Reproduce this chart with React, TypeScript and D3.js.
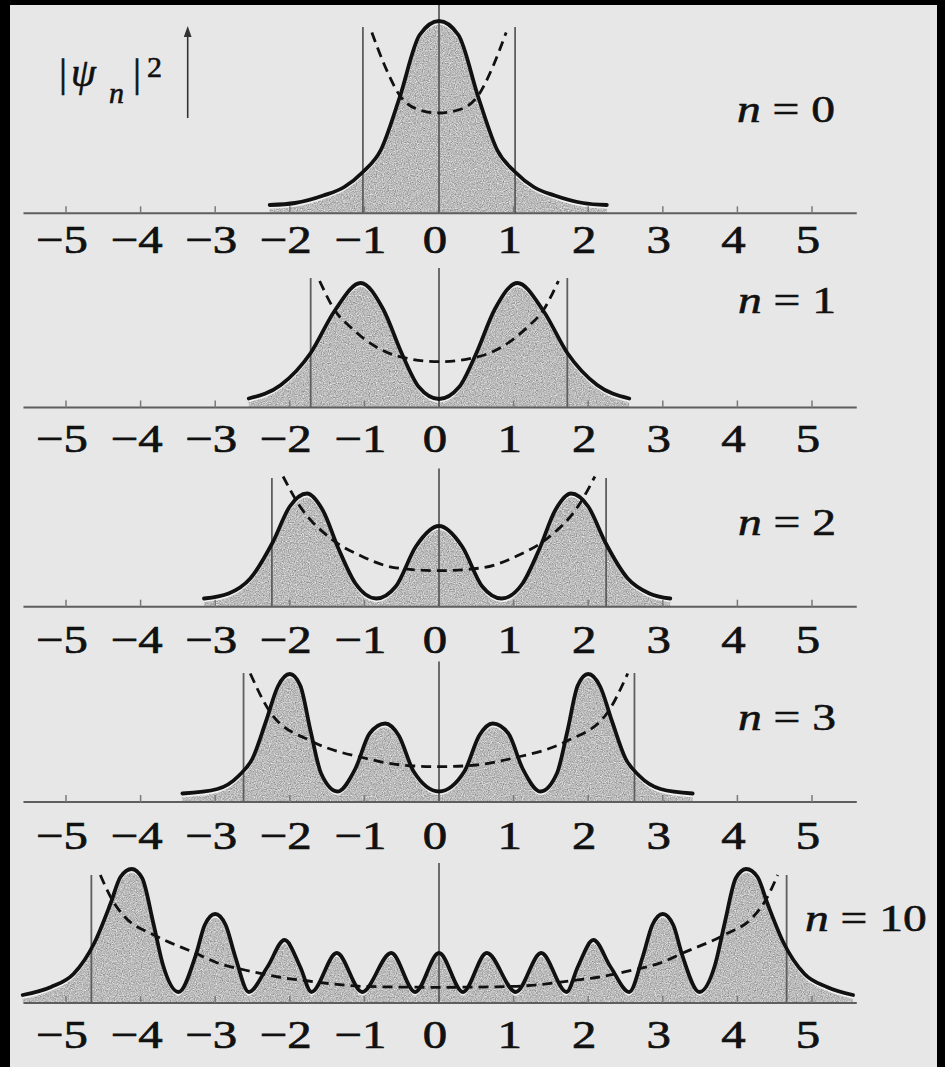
import React from 'react';
import * as d3 from 'd3';

type Pt = [number, number];

const WIDTH = 945;
const HEIGHT = 1067;

// Quantum numbers of the oscillator states shown, top to bottom
const levels = [0, 1, 2, 3, 10];
const levelLabels = ['0', '1', '2', '3', '10'];

// |psi_n|^2 profiles as [x, density] pairs (density in arbitrary units)
const densityN0: Pt[] = [
  [-2.27, 0.01], [-1.93, 0.03], [-1.55, 0.105], [-1.27, 0.19], [-1.02, 0.34], [-0.78, 0.56],
  [-0.53, 1.08], [-0.26, 1.71], [0, 1.85], [0.26, 1.71], [0.53, 1.08], [0.78, 0.56],
  [1.02, 0.34], [1.27, 0.19], [1.55, 0.105], [1.93, 0.03], [2.25, 0.01],
];
const densityN1: Pt[] = [
  [-2.55, 0.005], [-2.12, 0.14], [-1.72, 0.46], [-1.4, 0.88], [-1.05, 1.16], [-0.75, 0.9],
  [-0.49, 0.44], [-0.27, 0.12], [0, 0], [0.27, 0.12], [0.49, 0.44], [0.75, 0.9],
  [1.05, 1.16], [1.4, 0.88], [1.72, 0.46], [2.12, 0.14], [2.55, 0.005],
];
const densityN2: Pt[] = [
  [-3.15, 0], [-2.82, 0.05], [-2.53, 0.2], [-2.23, 0.56], [-2.0, 0.92], [-1.77, 1.05],
  [-1.56, 0.885], [-1.34, 0.485], [-1.12, 0.15], [-0.84, 0], [-0.58, 0.12], [-0.31, 0.52],
  [0, 0.725], [0.31, 0.52], [0.58, 0.12], [0.84, 0], [1.12, 0.15], [1.34, 0.485],
  [1.56, 0.885], [1.77, 1.05], [2.0, 0.92], [2.23, 0.56], [2.53, 0.2], [2.82, 0.05], [3.1, 0],
];
const densityN3: Pt[] = [
  [-3.44, 0], [-2.97, 0.045], [-2.68, 0.18], [-2.5, 0.35], [-2.32, 0.72], [-2.16, 1.07],
  [-2.0, 1.195], [-1.86, 1.08], [-1.72, 0.62], [-1.58, 0.2], [-1.36, 0.02], [-1.12, 0.25],
  [-0.93, 0.6], [-0.72, 0.7], [-0.54, 0.58], [-0.34, 0.22], [0, 0.02], [0.34, 0.22],
  [0.54, 0.58], [0.72, 0.7], [0.93, 0.6], [1.12, 0.25], [1.36, 0.02], [1.58, 0.2],
  [1.72, 0.62], [1.86, 1.08], [2.0, 1.195], [2.16, 1.07], [2.32, 0.72], [2.5, 0.35],
  [2.68, 0.18], [2.97, 0.045], [3.4, 0],
];
const densityN10: Pt[] = [
  [-5.58, 0], [-5.2, 0.08], [-4.9, 0.21], [-4.62, 0.52], [-4.4, 0.92], [-4.27, 1.18],
  [-4.12, 1.26], [-3.98, 1.17], [-3.83, 0.72], [-3.7, 0.3], [-3.49, 0.03], [-3.26, 0.4],
  [-3.14, 0.7], [-3.0, 0.81], [-2.86, 0.7], [-2.73, 0.38], [-2.55, 0.03], [-2.3, 0.28],
  [-2.07, 0.55], [-1.86, 0.28], [-1.71, 0.03], [-1.37, 0.42], [-1.03, 0.03], [-0.64, 0.42],
  [-0.32, 0.03], [0, 0.42], [0.32, 0.03], [0.64, 0.42], [1.03, 0.03], [1.37, 0.42],
  [1.71, 0.03], [1.86, 0.28], [2.07, 0.55], [2.3, 0.28], [2.55, 0.03], [2.73, 0.38],
  [2.86, 0.7], [3.0, 0.81], [3.14, 0.7], [3.26, 0.4], [3.49, 0.03], [3.7, 0.3],
  [3.83, 0.72], [3.98, 1.17], [4.12, 1.26], [4.27, 1.18], [4.4, 0.92], [4.62, 0.52],
  [4.9, 0.21], [5.2, 0.08], [5.55, 0],
];

// Potential energy curves (dashed), same units as the densities
const potentialN0: Pt[] = [
  [-0.9, 1.735], [-0.72, 1.39], [-0.53, 1.11], [-0.28, 0.965], [0, 0.93],
  [0.28, 0.965], [0.53, 1.11], [0.72, 1.39], [0.9, 1.735],
];
const potentialN1: Pt[] = [
  [-1.6, 1.18], [-1.4, 0.89], [-1.18, 0.715], [-0.56, 0.43], [0, 0.373],
  [0.56, 0.43], [1.18, 0.715], [1.4, 0.89], [1.6, 1.18],
];
const potentialN2: Pt[] = [
  [-2.09, 1.22], [-1.88, 0.94], [-1.45, 0.6], [-1.05, 0.427], [-0.58, 0.307], [0, 0.278],
  [0.58, 0.307], [1.05, 0.427], [1.45, 0.6], [1.88, 0.94], [2.09, 1.22],
];
const potentialN3: Pt[] = [
  [-2.53, 1.2], [-2.25, 0.8], [-1.7, 0.52], [-1.0, 0.355], [-0.5, 0.285], [0, 0.268],
  [0.5, 0.285], [1.0, 0.355], [1.7, 0.52], [2.25, 0.8], [2.53, 1.2],
];
const potentialN10: Pt[] = [
  [-4.54, 1.2], [-4.38, 0.95], [-4.21, 0.78], [-3.82, 0.6], [-3.26, 0.417], [-3.0, 0.33],
  [-2.5, 0.233], [-2.15, 0.18], [-1.75, 0.14], [-1.0, 0.086], [0, 0.077], [1.0, 0.086],
  [1.75, 0.14], [2.15, 0.18], [2.5, 0.233], [3.0, 0.33], [3.26, 0.417], [3.82, 0.6],
  [4.21, 0.78], [4.38, 0.95], [4.54, 1.2],
];

// Classical turning points |x| for each level, and heights of the marker lines
const turningPoints = [1.02, 1.72, 2.24, 2.62, 4.66];
const turningLineTops = [1.79, 1.21, 1.205, 1.205, 1.2];
const centerLineTops = [2.05, 1.31, 1.3, 1.32, 1.32];

// Axis ticks
const tickValues = [-5, -4, -3, -2, -1, 0, 1, 2, 3, 4, 5];
const tickLabels = ['−5', '−4', '−3', '−2', '−1', '0', '1', '2', '3', '4', '5'];

const densities = [densityN0, densityN1, densityN2, densityN3, densityN10];
const potentials = [potentialN0, potentialN1, potentialN2, potentialN3, potentialN10];

// Layout of the five stacked panels
const AXIS_Y = [213.3, 407.5, 606.7, 802, 1003];
const CURVE_ZERO = [206, 399, 598.5, 793.5, 995];
const LABEL_BASELINE_OFFSET = [40, 44, 46, 47, 45];
const LEVEL_LABEL_POS: Pt[] = [[737, 122], [738, 313], [738, 535], [738, 730], [805, 931]];
const AXIS_EXTENT: Pt = [-5.57, 5.6];
const PX_PER_UNIT = 100;
const FILL_SHIFT = 3;

const BG = '#e7e7e7';
const FILL = '#b8b8b8';
const INK = '#111';
const RULE = '#5e5e5e';
const SERIF = "'Liberation Serif', 'Times New Roman', serif";

export default function App() {
  const x = d3.scaleLinear().domain([-5, 5]).range([66, 812]);

  const panels = levels.map((n, i) => {
    const zero = CURVE_ZERO[i];
    const axisY = AXIS_Y[i];
    const y = d3.scaleLinear().domain([0, 1]).range([zero, zero - PX_PER_UNIT]);
    const line = d3.line<Pt>().x(d => x(d[0])).y(d => y(d[1])).curve(d3.curveMonotoneX);
    const shifted = d3.line<Pt>().x(d => x(d[0])).y(d => y(d[1]) + FILL_SHIFT).curve(d3.curveMonotoneX);
    const area = d3.area<Pt>()
      .x(d => x(d[0]))
      .y0(axisY)
      .y1(d => Math.min(axisY, y(d[1]) + FILL_SHIFT))
      .curve(d3.curveMonotoneX);
    const tp = turningPoints[i];
    const labelY = axisY + LABEL_BASELINE_OFFSET[i];
    const [lx, ly] = LEVEL_LABEL_POS[i];

    return (
      <g key={n}>
        <path d={area(densities[i]) ?? ''} fill={FILL} filter="url(#grain)" />
        <path d={shifted(densities[i]) ?? ''} fill="none" stroke="#f6f6f6" strokeWidth={1.4} opacity={0.85} />
        <line x1={x(AXIS_EXTENT[0])} x2={x(AXIS_EXTENT[1])} y1={axisY} y2={axisY} stroke={RULE} strokeWidth={2} />
        {tickValues.map(v => (
          <line key={v} x1={x(v)} x2={x(v)} y1={axisY} y2={axisY - 7} stroke="#7a7a7a" strokeWidth={1.5} />
        ))}
        {[-tp, tp].map(t => (
          <line key={t} x1={x(t)} x2={x(t)} y1={axisY} y2={y(turningLineTops[i])} stroke={RULE} strokeWidth={1.8} />
        ))}
        <line x1={x(0)} x2={x(0)} y1={axisY} y2={y(centerLineTops[i])} stroke={RULE} strokeWidth={1.8} />
        <path d={line(densities[i]) ?? ''} fill="none" stroke={INK} strokeWidth={3.8} strokeLinejoin="round" strokeLinecap="round" />
        <path d={line(potentials[i]) ?? ''} fill="none" stroke={INK} strokeWidth={2.8} strokeDasharray="10 6" />
        {tickValues.map((v, k) => (
          <text
            key={v}
            transform={`translate(${x(v) - 4},${labelY}) scale(1.22,1)`}
            textAnchor="middle"
            fontFamily={SERIF}
            fontSize={40}
            fill={INK}
            stroke={INK}
            strokeWidth={0.7}
          >
            {tickLabels[k]}
          </text>
        ))}
        <text
          transform={`translate(${lx},${ly}) scale(1.25,1)`}
          fontFamily={SERIF}
          fontSize={38}
          fill={INK}
          stroke={INK}
          strokeWidth={0.6}
          style={{ whiteSpace: 'pre' }}
        >
          <tspan fontStyle="italic">n</tspan>
          {` = ${levelLabels[i]}`}
        </text>
      </g>
    );
  });

  return (
    <div style={{ position: 'absolute', left: 0, top: 0 }}>
      <svg width={WIDTH} height={HEIGHT} viewBox={`0 0 ${WIDTH} ${HEIGHT}`} style={{ display: 'block' }}>
        <defs>
          <filter id="grain" x="0%" y="0%" width="100%" height="100%" colorInterpolationFilters="sRGB">
            <feTurbulence type="fractalNoise" baseFrequency="0.85" numOctaves={2} seed={4} result="noise" />
            <feColorMatrix
              in="noise"
              type="matrix"
              values="0.3 0.3 0.3 0 0.28  0.3 0.3 0.3 0 0.28  0.3 0.3 0.3 0 0.28  0 0 0 0 1"
              result="mono"
            />
            <feComposite in="mono" in2="SourceGraphic" operator="in" />
          </filter>
        </defs>
        <rect x={0} y={0} width={WIDTH} height={HEIGHT} fill={BG} />

        {panels}

        {/* |psi_n|^2 axis caption with upward arrow */}
        <g fontFamily={SERIF} fill={INK} stroke={INK} strokeWidth={0.6}>
          <text x={59} y={86} fontSize={40}>|</text>
          <text x={71} y={86} fontSize={40} fontStyle="italic">ψ</text>
          <text x={109} y={103} fontSize={30} fontStyle="italic">n</text>
          <text x={133} y={86} fontSize={40}>|</text>
          <text x={147} y={77} fontSize={30}>2</text>
        </g>
        <line x1={187.7} x2={187.7} y1={118} y2={34} stroke="#333" strokeWidth={1.6} />
        <path d="M187.7,26 L183.8,37 L191.6,37 Z" fill="#333" />

        {/* scan frame */}
        <rect x={0} y={0} width={WIDTH} height={5} fill="#000" />
        <rect x={0} y={0} width={10} height={HEIGHT} fill="#000" />
        <rect x={937} y={0} width={WIDTH - 937} height={HEIGHT} fill="#000" />
      </svg>
    </div>
  );
}
